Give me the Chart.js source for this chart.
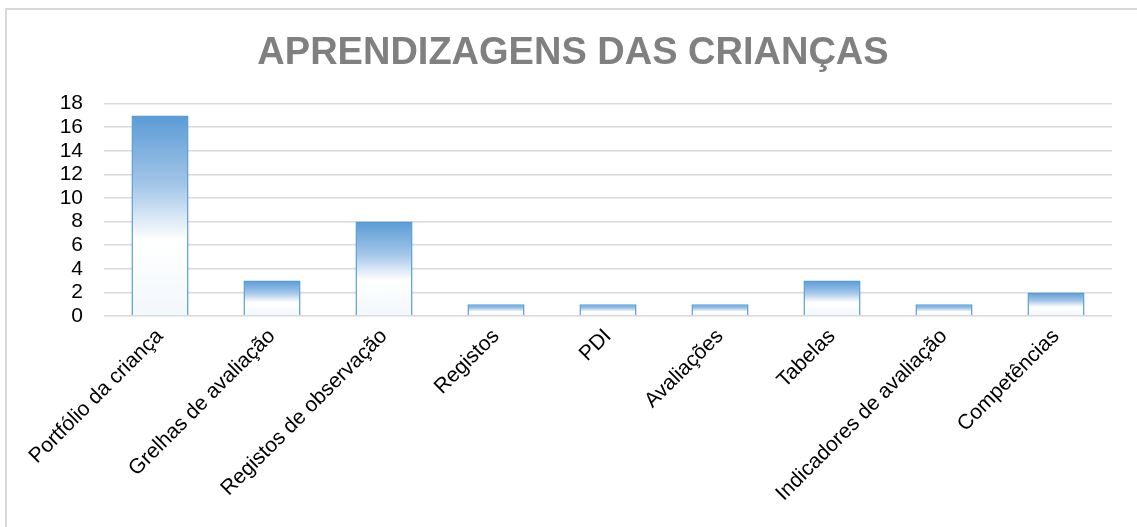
<!DOCTYPE html>
<html>
<head>
<meta charset="utf-8">
<script src="https://cdn.jsdelivr.net/npm/chart.js@4"></script>
<style>
    body { margin: 0; background: #fff; }
    #wrap { position: relative; width: 1137px; height: 527px; }
    #frame { position: absolute; left: 5px; top: 8px; right: -10px; bottom: -10px; border-left: 2px solid #d9d9d9; border-top: 2px solid #d9d9d9; }
    #chart { position: absolute; left: 0; top: 0; }
</style>
</head>
<body>
<div id="wrap">
    <div id="frame"></div>
    <canvas id="chart" width="1137" height="527"></canvas>
</div>
<script>
const categories = [
    'Portfólio da criança',
    'Grelhas de avaliação',
    'Registos de observação',
    'Registos',
    'PDI',
    'Avaliações',
    'Tabelas',
    'Indicadores de avaliação',
    'Competências'
];
const counts = [17, 3, 8, 1, 1, 1, 3, 1, 2];
const yTicks = [0, 2, 4, 6, 8, 10, 12, 14, 16, 18];

// gradient per bar: blue at the top, fading to white
function barGradient(context) {
    const chart = context.chart;
    if (!chart.chartArea || !chart.scales.y) return '#9dc3e6';
    const y = chart.scales.y;
    const top = y.getPixelForValue(context.raw);
    const bottom = y.getPixelForValue(0);
    const g = chart.ctx.createLinearGradient(0, top, 0, bottom);
    g.addColorStop(0, '#5b9bd5');
    g.addColorStop(0.35, '#a4c6e8');
    g.addColorStop(0.62, '#ffffff');
    g.addColorStop(1, '#f2f7fc');
    return g;
}

const ctx = document.getElementById('chart').getContext('2d');
new Chart(ctx, {
    type: 'bar',
    data: {
        labels: categories,
        datasets: [{
            data: counts,
            backgroundColor: barGradient,
            borderColor: '#5b9bd5',
            borderWidth: 1.5,
            borderSkipped: 'bottom',
            barPercentage: 0.51,
            categoryPercentage: 1
        }]
    },
    options: {
        responsive: false,
        animation: false,
        layout: { padding: { left: 34, right: 25, top: 0, bottom: 0 } },
        plugins: {
            legend: { display: false },
            tooltip: { enabled: false },
            title: {
                display: true,
                text: 'APRENDIZAGENS DAS CRIANÇAS',
                color: '#808080',
                font: { family: 'Liberation Sans, Arial, sans-serif', size: 38, weight: 'bold' },
                padding: { top: 31, bottom: 27 }
            }
        },
        scales: {
            y: {
                min: 0,
                max: 18,
                afterBuildTicks: scale => { scale.ticks = yTicks.map(v => ({ value: v })); },
                afterFit: scale => { scale.width = 70; },
                border: { display: false },
                grid: { color: '#d9d9d9', lineWidth: 1.5, drawTicks: false },
                ticks: {
                    color: '#000',
                    padding: 21,
                    autoSkip: false,
                    font: { family: 'Liberation Sans, Arial, sans-serif', size: 21 }
                }
            },
            x: {
                afterFit: scale => { scale.height = 211; },
                border: { display: false },
                grid: { display: false, drawTicks: false },
                ticks: {
                    color: '#000',
                    minRotation: 45,
                    maxRotation: 45,
                    autoSkip: false,
                    padding: 8,
                    font: { family: 'Liberation Sans, Arial, sans-serif', size: 21 }
                }
            }
        }
    }
});
</script>
</body>
</html>
